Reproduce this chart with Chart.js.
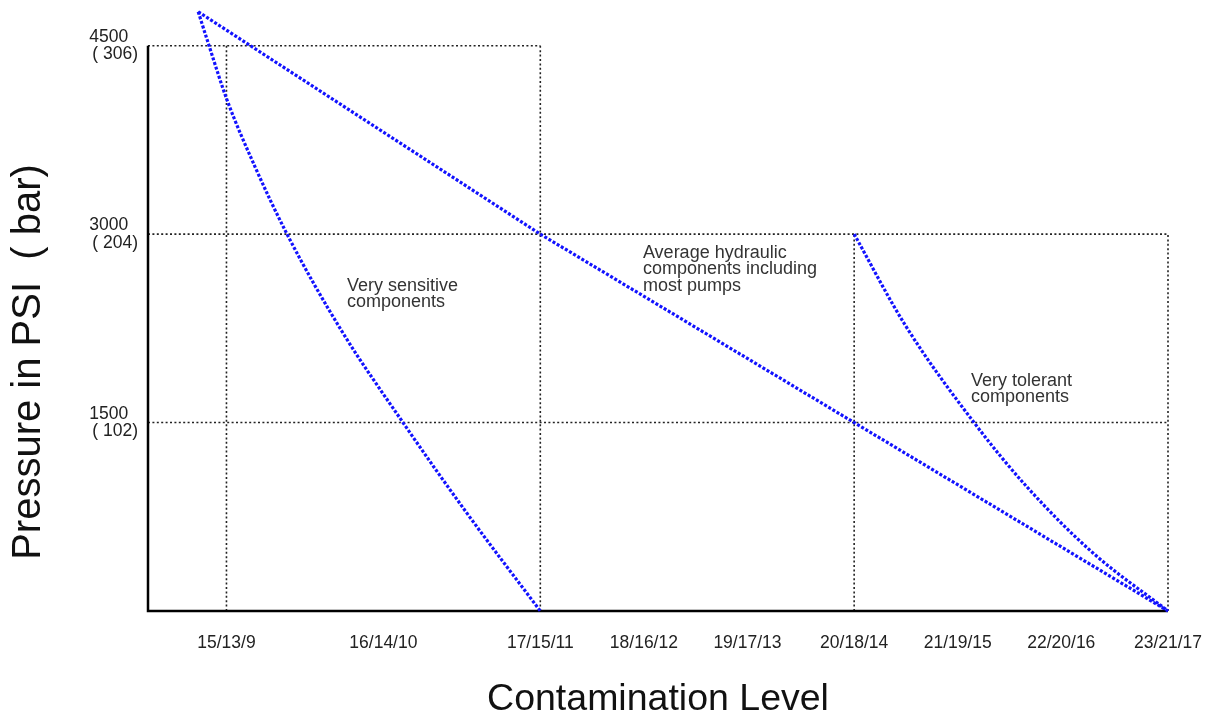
<!DOCTYPE html>
<html>
<head>
<meta charset="utf-8">
<script src="https://cdn.jsdelivr.net/npm/chart.js@4"></script>
<style>
html, body { margin: 0; padding: 0; background: #fff; }
#wrap { width: 1212px; height: 717px; }
</style>
</head>
<body>
<div id="wrap"><canvas id="myChart" width="1212" height="717"></canvas></div>
<script>
//
// data
//
// contamination codes, the x axis is numeric so the codes sit where the original put them
const levelLabels = ['15/13/9', '16/14/10', '17/15/11', '18/16/12', '19/17/13', '20/18/14', '21/19/15', '22/20/16', '23/21/17'];
const levelPos = [1, 2, 3, 3.66, 4.32, 5, 5.66, 6.32, 7];

const psiTicks = [1500, 3000, 4500];
const barTicks = [102, 204, 306];

// average hydraulic components including most pumps
const avgX = [0.82, 3, 5, 7];
const avgY = [4770, 3000, 1500, 0];

// very sensitive components
const sensX = [0.82, 0.889, 1.003, 1.182, 1.386, 1.73, 2.125, 2.527, 3];
const sensY = [4770, 4500, 4070, 3536, 3000, 2238, 1500, 788, 0];

// very tolerant components
const tolX = [5, 5.324, 5.764, 6.101, 6.522, 7];
const tolY = [3000, 2278, 1500, 988, 462, 0];

// dotted guide lines: vertical [x, top], horizontal [y, right end]
const guideV = [[1, 4500], [3, 4500], [5, 3000], [7, 3000]];
const guideH = [[4500, 3], [3000, 7], [1500, 7]];

const xMin = 0.5, xMax = 7;

const notes = [
    { lines: ['Very sensitive', 'components'], x: 1.768, y: 2588 },
    { lines: ['Average hydraulic', 'components including', 'most pumps'], x: 3.654, y: 2851 },
    { lines: ['Very tolerant', 'components'], x: 5.745, y: 1832 },
];

const FONT = '"Liberation Sans", Arial, Helvetica, sans-serif';

function pts(xs, ys) {
    return xs.map((x, i) => ({ x: x, y: ys[i] }));
}

// scales must not reserve room for their edge labels, layout padding decides
function noPad(s) {
    s.paddingTop = 0;
    s.paddingBottom = 0;
    s.paddingLeft = 0;
    s.paddingRight = 0;
}

const blueLine = {
    borderColor: '#1212ff',
    borderWidth: 3.2,
    borderDash: [3, 1.8],
    pointRadius: 0,
    fill: false,
    tension: 0,
    clip: false,
    order: 0,
};
const dotLine = {
    borderColor: '#222',
    borderWidth: 1.6,
    borderDash: [2, 2.4],
    pointRadius: 0,
    fill: false,
    clip: false,
    order: 2,
};
const axisLine = {
    borderColor: '#000',
    borderWidth: 2.5,
    pointRadius: 0,
    fill: false,
    clip: false,
    order: 1,
};

let datasets = [
    Object.assign({ label: 'avg', data: pts(avgX, avgY) }, blueLine),
    Object.assign({ label: 'sensitive', data: pts(sensX, sensY) }, blueLine, { cubicInterpolationMode: 'monotone' }),
    Object.assign({ label: 'tolerant', data: pts(tolX, tolY) }, blueLine, { cubicInterpolationMode: 'monotone' }),
];
guideV.forEach(g => {
    datasets.push(Object.assign({ data: [{ x: g[0], y: 0 }, { x: g[0], y: g[1] }] }, dotLine));
});
guideH.forEach(g => {
    datasets.push(Object.assign({ data: [{ x: xMin, y: g[0] }, { x: g[1], y: g[0] }] }, dotLine));
});
// axis lines (left one stops at 4500)
datasets.push(Object.assign({ data: [{ x: xMin, y: psiTicks[2] }, { x: xMin, y: 0 }, { x: xMax, y: 0 }] }, axisLine));


//
// text on the chart + axis titles
//
const textPlugin = {
    id: 'textPlugin',
    afterDatasetsDraw(chart) {
        const ctx = chart.ctx;
        const xs = chart.scales.x, ys = chart.scales.y;
        const area = chart.chartArea;
        ctx.save();
        ctx.fillStyle = '#333';
        ctx.font = '18px ' + FONT;
        ctx.textAlign = 'left';
        ctx.textBaseline = 'middle';
        notes.forEach(n => {
            const px = xs.getPixelForValue(n.x);
            const py = ys.getPixelForValue(n.y);
            n.lines.forEach((t, i) => ctx.fillText(t, px, py + i * 16.5));
        });

        ctx.fillStyle = '#111';
        ctx.font = '37.5px ' + FONT;
        ctx.textAlign = 'center';
        ctx.textBaseline = 'alphabetic';
        ctx.fillText('Contamination Level', (area.left + area.right) / 2, 710);

        ctx.translate(40, 362);
        ctx.rotate(-Math.PI / 2);
        ctx.font = '40px ' + FONT;
        ctx.fillText('Pressure in PSI  ( bar)', 0, 0);
        ctx.restore();
    }
};


var myChart = new Chart(document.getElementById('myChart').getContext('2d'), {
    type: 'line',
    data: { datasets: datasets },
    options: {
        responsive: false,
        animation: false,
        events: [],
        layout: { padding: { top: 8, right: 44, left: 0, bottom: 0 } },
        plugins: {
            legend: { display: false },
            tooltip: { enabled: false },
        },
        scales: {
            x: {
                type: 'linear',
                min: xMin,
                max: xMax,
                afterBuildTicks: s => { s.ticks = levelPos.map(v => ({ value: v })); },
                afterFit: s => { s.height = 106; noPad(s); },
                grid: { display: false, drawTicks: false },
                border: { display: false },
                ticks: {
                    autoSkip: false,
                    maxRotation: 0,
                    padding: 22,
                    color: '#222',
                    font: { family: FONT, size: 17.5 },
                    callback: (v, i) => levelLabels[i],
                },
            },
            y: {
                type: 'linear',
                min: 0,
                max: 4800,
                afterBuildTicks: s => { s.ticks = psiTicks.map(v => ({ value: v })); },
                afterFit: s => { s.width = 148; noPad(s); },
                grid: { display: false, drawTicks: false },
                border: { display: false },
                ticks: {
                    padding: 10,
                    color: '#222',
                    font: { family: FONT, size: 17.5, lineHeight: 1 },
                    callback: (v, i) => [psiTicks[i] + '  ', '( ' + barTicks[i] + ')'],
                },
            },
        },
    },
    plugins: [textPlugin],
});
</script>
</body>
</html>
